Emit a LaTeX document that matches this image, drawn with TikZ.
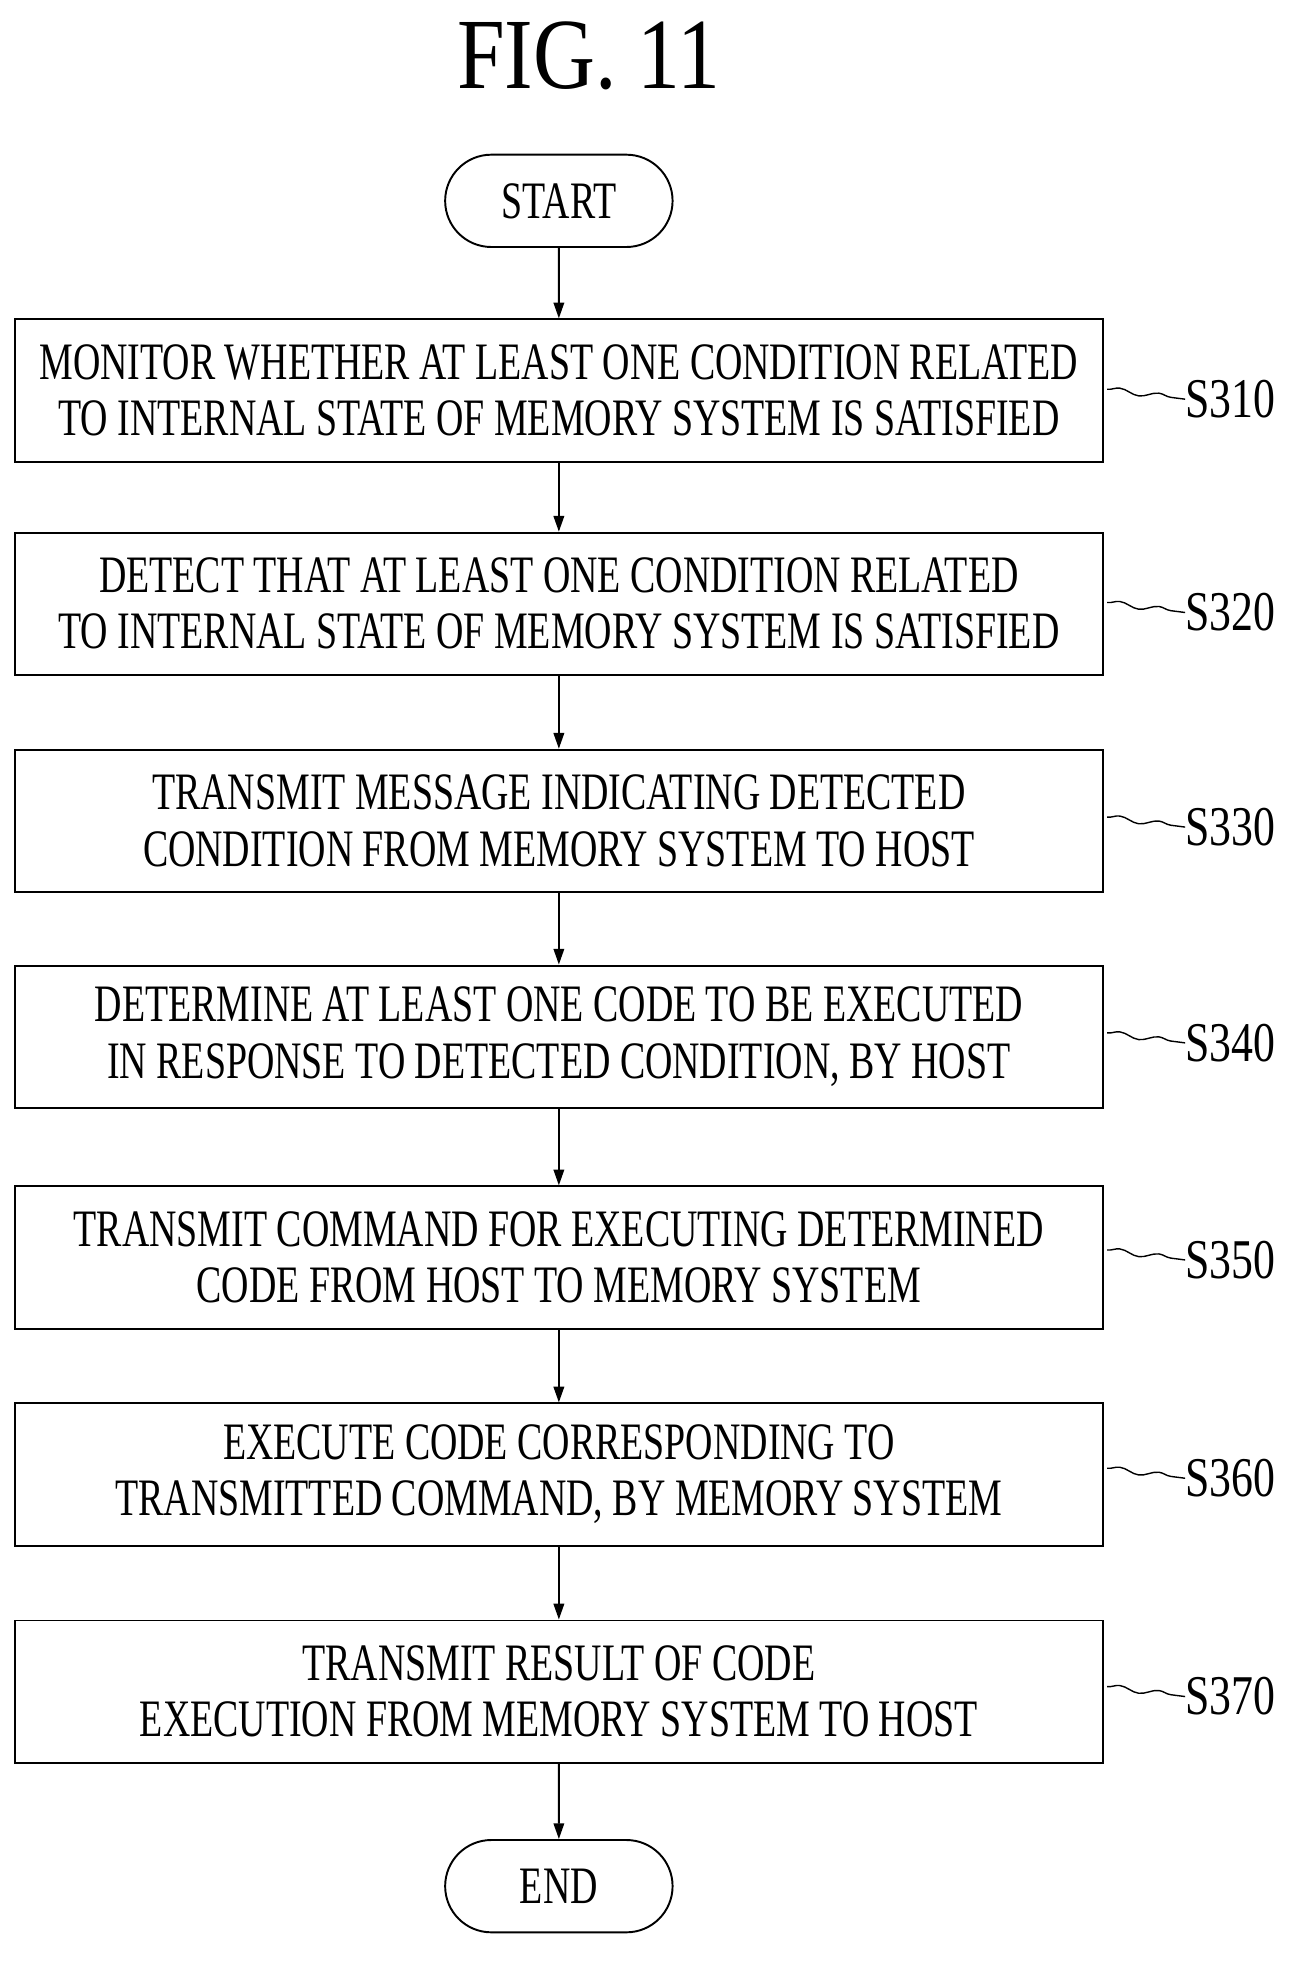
\documentclass[tikz,border=0pt]{standalone}
\usepackage{fontspec}
\setmainfont{Liberation Serif}[FakeStretch=0.72]
\newfontfamily\labfont{Liberation Serif}[FakeStretch=0.78]
\newfontfamily\titfont{Liberation Serif}[FakeStretch=0.85]
\usetikzlibrary{arrows.meta,shapes.misc,decorations.pathmorphing}
\begin{document}
\begin{tikzpicture}[x=0.05cm,y=-0.05cm,
  txt/.style={font=\fontsize{60}{64}\selectfont,align=center},
  stepbox/.style={draw,line width=2.2pt,minimum width=872*0.05cm,minimum height=114*0.05cm,txt,inner sep=0pt},
  term/.style={draw,line width=2.2pt,rounded rectangle,minimum width=187*0.05cm,minimum height=74*0.05cm,txt},
  arr/.style={line width=2.2pt,-{Triangle[length=18pt,width=12pt]}},
  sq/.style={line width=1.6pt,decorate,decoration={snake,amplitude=3pt,segment length=45pt}}]
\useasboundingbox (0,0) rectangle (1040,1572);
\node[font=\titfont\fontsize{115}{115}\selectfont] (title) at (472,45) {FIG. 11};
\node[term] (start) at (448,161) {START};
\node[stepbox] (s1) at (448,313) {MONITOR WHETHER AT LEAST ONE CONDITION RELATED\\TO INTERNAL STATE OF MEMORY SYSTEM IS SATISFIED};
\node[stepbox] (s2) at (448,484) {DETECT THAT AT LEAST ONE CONDITION RELATED\\TO INTERNAL STATE OF MEMORY SYSTEM IS SATISFIED};
\node[stepbox] (s3) at (448,658) {TRANSMIT MESSAGE INDICATING DETECTED\\CONDITION FROM MEMORY SYSTEM TO HOST};
\node[stepbox] (s4) at (448,831) {DETERMINE AT LEAST ONE CODE TO BE EXECUTED\\IN RESPONSE TO DETECTED CONDITION, BY HOST};
\node[stepbox] (s5) at (448,1008) {TRANSMIT COMMAND FOR EXECUTING DETERMINED\\CODE FROM HOST TO MEMORY SYSTEM};
\node[stepbox] (s6) at (448,1182) {EXECUTE CODE CORRESPONDING TO\\TRANSMITTED COMMAND, BY MEMORY SYSTEM};
\node[stepbox] (s7) at (448,1356) {TRANSMIT RESULT OF CODE\\EXECUTION FROM MEMORY SYSTEM TO HOST};
\node[term] (end) at (448,1512) {END};
\draw[arr] (start) -- (s1);
\draw[arr] (s1) -- (s2);
\draw[arr] (s2) -- (s3);
\draw[arr] (s3) -- (s4);
\draw[arr] (s4) -- (s5);
\draw[arr] (s5) -- (s6);
\draw[arr] (s6) -- (s7);
\draw[arr] (s7) -- (end);
\foreach \n/\y/\l in {s1/320/S310,s2/491/S320,s3/663/S330,s4/836/S340,s5/1010/S350,s6/1185/S360,s7/1360/S370}{
  \node[font=\labfont\fontsize{64}{66}\selectfont,anchor=west,inner sep=0pt] (l\n) at (950,\y) {\l};
  \draw[sq] ([xshift=4pt]\n.east |- 0,\y-8) -- (l\n.west);
}
\end{tikzpicture}
\end{document}
